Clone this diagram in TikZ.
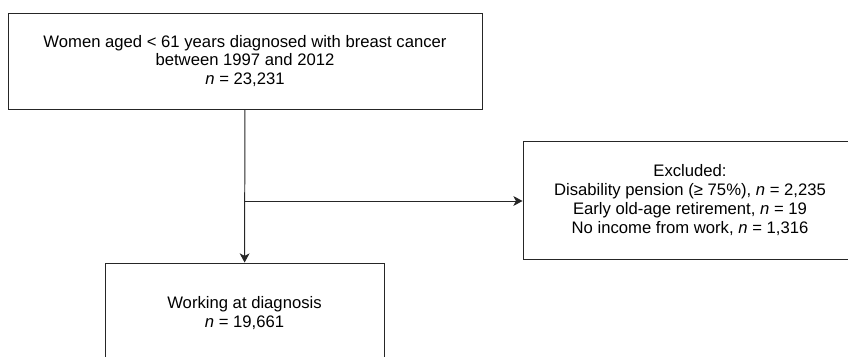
\documentclass[tikz,border=0pt]{standalone}
\usepackage{fontspec}
\setmainfont{Liberation Sans}
\usetikzlibrary{arrows.meta}

\begin{document}
\begin{tikzpicture}[x=0.025cm,y=-0.025cm,
	flowbox/.style={draw=black!85, line width=0.7pt, align=center, inner sep=0pt,
		font=\fontsize{11.85}{13.3}\selectfont},
	flowarrow/.style={-{Stealth[length=6.5pt,width=7pt,inset=1.8pt]}, draw=black!85, line width=0.7pt}]

	\useasboundingbox (0,0) rectangle (848,356);

	\node (cohort) [flowbox, minimum width=474*0.025cm, minimum height=96*0.025cm] at (245, 61)
		{Women aged < 61 years diagnosed with breast cancer\\between 1997 and 2012\\\textit{n} = 23,231};
	\node (excl) [flowbox, minimum width=334*0.025cm, minimum height=118*0.025cm] at (690, 200)
		{Excluded:\\Disability pension (≥ 75\%), \textit{n} = 2,235\\Early old-age retirement, \textit{n} = 19\\No income from work, \textit{n} = 1,316};
	\node (work) [flowbox, minimum width=279*0.025cm, minimum height=100*0.025cm] at (244.5, 313)
		{Working at diagnosis\\\textit{n} = 19,661};
	\coordinate (split) at (245, 201);

	\path
	(cohort) edge[flowarrow] (work)
	(split) edge[flowarrow] (excl.west |- split);

\end{tikzpicture}
\end{document}
